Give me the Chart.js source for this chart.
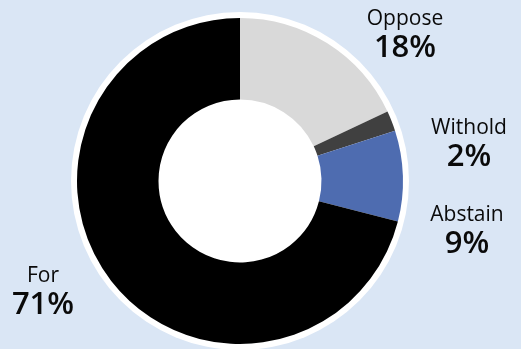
<!DOCTYPE html>
<html>
<head>
<meta charset="utf-8">
<script src="https://cdn.jsdelivr.net/npm/chart.js@4"></script>
<style>
	html, body { margin: 0; padding: 0; background: #dae6f5; }
	#wrap { position: relative; width: 521px; height: 349px; }
	.lbl { position: absolute; width: 120px; text-align: center; font-family: "Open Sans", sans-serif; color: #0a0a0a; line-height: 1; }
	.lbl .name { font-size: 21px; }
	.lbl .pct { font-size: 31px; font-weight: 600; margin-top: 2px; }
</style>
</head>
<body>
<div id="wrap">
	<canvas id="vote-chart" width="521" height="349"></canvas>
	<div class="lbl" style="left:345px; top:7px;"><div class="name">Oppose</div><div class="pct">18%</div></div>
	<div class="lbl" style="left:409px; top:116px;"><div class="name">Withold</div><div class="pct">2%</div></div>
	<div class="lbl" style="left:407px; top:203px;"><div class="name">Abstain</div><div class="pct">9%</div></div>
	<div class="lbl" style="left:-17px; top:264px;"><div class="name">For</div><div class="pct">71%</div></div>
</div>
<script>
let voteLabels = ["Oppose", "Withold", "Abstain", "For"];
let voteShares = [18, 2, 9, 71];
let voteColors = ["#d9d9d9", "#404040", "#4e6cb0", "#000000"];

//white disc behind the ring: fills the hole and gives the outer rim
let whiteDisc = {
	id: "whiteDisc",
	beforeDatasetsDraw(chart) {
		let arc = chart.getDatasetMeta(0).data[0];
		if (!arc) return;
		let ctx = chart.ctx;
		ctx.save();
		ctx.fillStyle = "#ffffff";
		ctx.beginPath();
		ctx.arc(arc.x, arc.y, arc.outerRadius + 6, 0, Math.PI * 2);
		ctx.fill();
		ctx.restore();
	},
};

let voteCTX = document.getElementById("vote-chart");
let voteChart = new Chart(voteCTX, {
	type: "doughnut",
	data: {
		labels: voteLabels,
		datasets: [
			{
				data: voteShares,
				backgroundColor: voteColors,
				borderWidth: 0,
			},
		],
	},
	options: {
		responsive: false,
		animation: false,
		cutout: "50%",
		layout: { padding: { top: 18, bottom: 5, left: 0, right: 41 } },
		plugins: {
			legend: { display: false },
			tooltip: { enabled: false },
		},
	},
	plugins: [whiteDisc],
});
</script>
</body>
</html>
